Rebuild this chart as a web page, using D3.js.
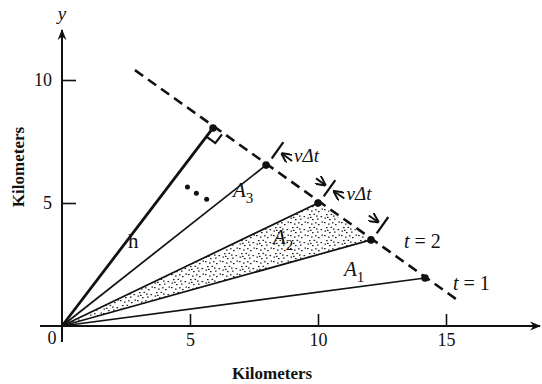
<!DOCTYPE html>
<html>
<head>
<meta charset="utf-8">
<script src="https://cdn.jsdelivr.net/npm/d3@7"></script>
<style>
  body { margin: 0; background: #fff; }
  svg text { font-family: "Liberation Serif", "DejaVu Serif", serif; fill: #111; }
</style>
</head>
<body>
<div id="chart" style="width:542px;height:384px"></div>
<script>
// ray end points on the wavefront (km): t = 1, t = 2, then upwards
const rayEnds = [[14.18, 1.95], [12.07, 3.5], [10, 5], [7.97, 6.54]];
const normalEnd = [5.9, 8.05];          // "h", foot of perpendicular
const wavefront = [[2.85, 10.4], [15.55, 0.98]];
const dimTicks = [[8.42, 7.14], [10.45, 5.6], [12.52, 4.1]];
const xTicks = [5, 10, 15];
const yTicks = [5, 10];
const dots = [[4.9, 5.65], [5.25, 5.4], [5.65, 5.15]];

const width = 542, height = 384;
const svg = d3.select("#chart").append("svg")
  .attr("width", width).attr("height", height);

const x = d3.scaleLinear().domain([0, 15]).range([62, 446]);
const y = d3.scaleLinear().domain([0, 10]).range([326, 80]);

// stipple pattern
const defs = svg.append("defs");
const pat = defs.append("pattern").attr("id", "stip")
  .attr("patternUnits", "userSpaceOnUse").attr("width", 17).attr("height", 13);
[[1, 1], [5, 2.5], [3, 6], [7.5, 5.8], [9, 1.2], [12, 3], [14.5, 8], [11, 10.5], [6, 11], [1.5, 9.5],
 [15.5, 0.5], [10, 7.5], [4, 8.8]].forEach(p => {
  pat.append("rect").attr("x", p[0]).attr("y", p[1]).attr("width", 1.6).attr("height", 1.2).attr("fill", "#222");
});

// shaded wedge A2
svg.append("path")
  .attr("d", d3.line()([[x(0), y(0)], [x(rayEnds[2][0]), y(rayEnds[2][1])], [x(rayEnds[1][0]), y(rayEnds[1][1])]]) + "Z")
  .attr("fill", "url(#stip)");

// axes
const gx = svg.append("g").attr("transform", `translate(0,${y(0)})`)
  .call(d3.axisBottom(x).tickValues(xTicks).tickSize(-12).tickPadding(7).tickSizeOuter(0));
gx.select(".domain").remove();
gx.selectAll("line").attr("stroke", "#111").attr("stroke-width", 1.6);
gx.selectAll("text").style("font-size", "18px");

const gy = svg.append("g").attr("transform", `translate(${x(0)},0)`)
  .call(d3.axisLeft(y).tickValues(yTicks).tickSize(-14).tickPadding(10).tickSizeOuter(0));
gy.select(".domain").remove();
gy.selectAll("line").attr("stroke", "#111").attr("stroke-width", 1.6);
gy.selectAll("text").style("font-size", "18px");

defs.append("marker").attr("id", "ax").attr("viewBox", "0 0 10 10")
  .attr("refX", 9).attr("refY", 5).attr("markerWidth", 11).attr("markerHeight", 11)
  .attr("markerUnits", "userSpaceOnUse").attr("orient", "auto")
  .append("path").attr("d", "M0,1 L10,5 L0,9 L3,5 Z").attr("fill", "#111");

svg.append("line").attr("x1", 40).attr("x2", 540).attr("y1", y(0)).attr("y2", y(0))
  .attr("stroke", "#111").attr("stroke-width", 2).attr("marker-end", "url(#ax)");
svg.append("line").attr("x1", x(0)).attr("x2", x(0)).attr("y1", 342).attr("y2", 30)
  .attr("stroke", "#111").attr("stroke-width", 2).attr("marker-end", "url(#ax)");

svg.append("text").attr("x", 52).attr("y", 344).attr("text-anchor", "middle").style("font-size", "18px").text("0");
svg.append("text").attr("x", x(0)).attr("y", 20).attr("text-anchor", "middle")
  .style("font-size", "19px").style("font-style", "italic").text("y");
svg.append("text").attr("x", 272).attr("y", 379).attr("text-anchor", "middle")
  .style("font-size", "17px").style("font-weight", "bold").text("Kilometers");
svg.append("text").attr("transform", "translate(24,167) rotate(-90)").attr("text-anchor", "middle")
  .style("font-size", "17px").style("font-weight", "bold").text("Kilometers");

// wavefront
svg.append("line")
  .attr("x1", x(wavefront[0][0])).attr("y1", y(wavefront[0][1]))
  .attr("x2", x(wavefront[1][0])).attr("y2", y(wavefront[1][1]))
  .attr("stroke", "#111").attr("stroke-width", 2.6).attr("stroke-dasharray", "10,6");

// rays
svg.selectAll("line.ray").data(rayEnds).join("line").attr("class", "ray")
  .attr("x1", x(0)).attr("y1", y(0))
  .attr("x2", d => x(d[0])).attr("y2", d => y(d[1]))
  .attr("stroke", "#111").attr("stroke-width", 1.7);
svg.append("line").attr("x1", x(0)).attr("y1", y(0))
  .attr("x2", x(normalEnd[0])).attr("y2", y(normalEnd[1]))
  .attr("stroke", "#111").attr("stroke-width", 2.8);

svg.selectAll("circle.pt").data(rayEnds.concat([normalEnd])).join("circle").attr("class", "pt")
  .attr("cx", d => x(d[0])).attr("cy", d => y(d[1])).attr("r", 3.8).attr("fill", "#111");
svg.selectAll("circle.dot").data(dots).join("circle").attr("class", "dot")
  .attr("cx", d => x(d[0])).attr("cy", d => y(d[1])).attr("r", 2.5).attr("fill", "#111");

// right-angle mark at the foot of h
const P = [x(normalEnd[0]), y(normalEnd[1])];
const W0 = [x(wavefront[0][0]), y(wavefront[0][1])], W1 = [x(wavefront[1][0]), y(wavefront[1][1])];
const dl = Math.hypot(W1[0] - W0[0], W1[1] - W0[1]);
const du = [(W1[0] - W0[0]) / dl, (W1[1] - W0[1]) / dl];
const rl = Math.hypot(x(0) - P[0], y(0) - P[1]);
const ru = [(x(0) - P[0]) / rl, (y(0) - P[1]) / rl];
const s = 11;
svg.append("path")
  .attr("d", d3.line()([[P[0] + ru[0] * s, P[1] + ru[1] * s],
    [P[0] + ru[0] * s + du[0] * s, P[1] + ru[1] * s + du[1] * s],
    [P[0] + du[0] * s, P[1] + du[1] * s]]))
  .attr("fill", "none").attr("stroke", "#111").attr("stroke-width", 2.2);

// dimension ticks and arrows (v Δt)
const nu = [-du[1], du[0]];  // perpendicular
const T = dimTicks.map(d => [x(d[0]), y(d[1])]);
T.forEach(t => {
  svg.append("line").attr("x1", t[0] - nu[0] * 10).attr("y1", t[1] - nu[1] * 10)
    .attr("x2", t[0] + nu[0] * 10).attr("y2", t[1] + nu[1] * 10)
    .attr("stroke", "#111").attr("stroke-width", 2.2);
});
defs.append("marker").attr("id", "ar").attr("viewBox", "0 0 10 10")
  .attr("refX", 10).attr("refY", 5).attr("markerWidth", 10).attr("markerHeight", 10)
  .attr("markerUnits", "userSpaceOnUse").attr("orient", "auto")
  .append("path").attr("d", "M0,0 L10,5 L0,10").attr("fill", "none").attr("stroke", "#111").attr("stroke-width", 2);

for (let i = 0; i < 2; i++) {
  const a = T[i], b = T[i + 1];
  const pt = f => [a[0] + (b[0] - a[0]) * f, a[1] + (b[1] - a[1]) * f];
  const p1 = pt(0.07), p2 = pt(0.28), p3 = pt(0.74), p4 = pt(0.93);
  svg.append("line").attr("x1", p2[0]).attr("y1", p2[1]).attr("x2", p1[0]).attr("y2", p1[1])
    .attr("stroke", "#111").attr("stroke-width", 1.9).attr("marker-end", "url(#ar)");
  svg.append("line").attr("x1", p3[0]).attr("y1", p3[1]).attr("x2", p4[0]).attr("y2", p4[1])
    .attr("stroke", "#111").attr("stroke-width", 1.9).attr("marker-end", "url(#ar)");
  const m = pt(0.5);
  svg.append("text").attr("x", m[0] + 3).attr("y", m[1] - 7).attr("text-anchor", "middle")
    .style("font-size", "19px").style("font-style", "italic").text("vΔt");
}

// labels
const lab = (px, py, txt, sub) => {
  const t = svg.append("text").attr("x", px).attr("y", py).style("font-size", "21px").style("font-style", "italic");
  t.append("tspan").text(txt);
  if (sub) t.append("tspan").attr("dy", 6).style("font-size", "15px").style("font-style", "normal").text(sub);
};
svg.append("text").attr("x", 128).attr("y", 248).style("font-size", "21px").text("h");
lab(233, 197, "A", "3");
lab(273, 244, "A", "2");
lab(344, 276, "A", "1");
svg.append("text").attr("x", 404).attr("y", 248).style("font-size", "20px")
  .html('<tspan font-style="italic">t</tspan> = 2');
svg.append("text").attr("x", 453).attr("y", 290).style("font-size", "20px")
  .html('<tspan font-style="italic">t</tspan> = 1');
</script>
</body>
</html>
